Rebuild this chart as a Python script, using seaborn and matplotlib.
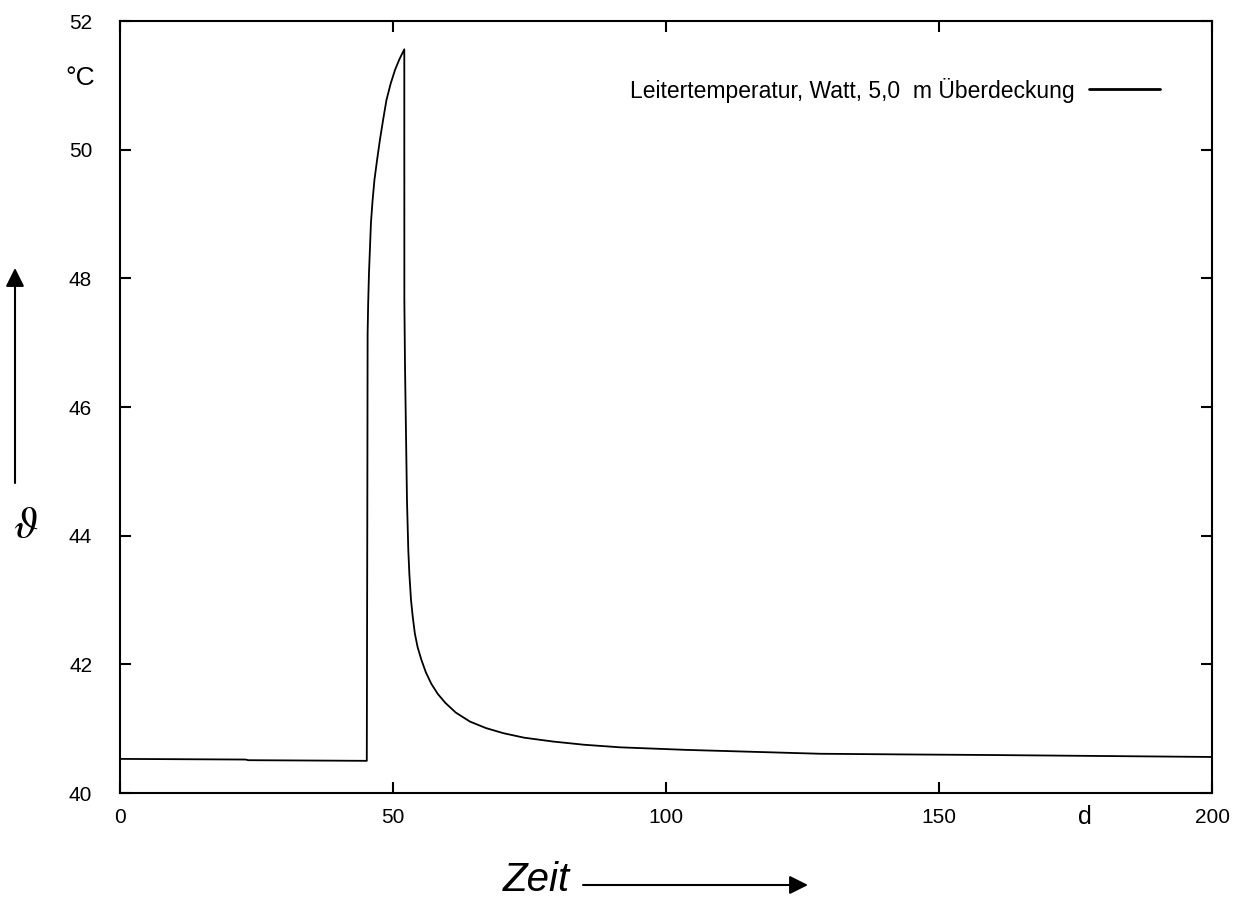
import numpy as np
import pandas as pd
import matplotlib
matplotlib.use("Agg")
import matplotlib.pyplot as plt
import seaborn as sns

# ---- data ----
days = [0, 23, 23.5, 45.2, 45.3, 45.35, 45.45, 45.6, 45.96, 46.25, 46.6,
        47.1, 47.6, 48.2, 48.8, 49.55, 50.37, 51.2, 52.07,
        52.08, 52.2, 52.38, 52.56, 52.8, 53.0, 53.3, 53.6, 54.0, 54.5, 55.2,
        56.0, 57.0, 58.2, 59.6, 61.5, 64.1, 67.0, 70.2, 74.0, 79.3, 85.0,
        91.6, 103.8, 116.0, 128.2, 143, 160, 180, 200]
temps = [40.53, 40.52, 40.51, 40.50, 44.5, 47.14, 47.6, 48.08, 48.86, 49.2,
         49.53, 49.85, 50.15, 50.47, 50.77, 51.02, 51.24, 51.41, 51.56,
         47.66, 46.63, 45.59, 44.55, 43.78, 43.4, 43.0, 42.75, 42.48, 42.27,
         42.07, 41.88, 41.70, 41.54, 41.40, 41.25, 41.11, 41.01, 40.93, 40.86,
         40.80, 40.75, 40.71, 40.67, 40.64, 40.61, 40.60, 40.59, 40.575, 40.56]
series_label = "Leitertemperatur, Watt, 5,0  m Überdeckung"
x_ticks = [0, 50, 100, 150, 200]
y_ticks = [40, 42, 44, 46, 48, 50, 52]

df = pd.DataFrame({"Zeit": days, "Temp": temps})

sns.set_style("ticks")
plt.rcParams["font.family"] = ["Liberation Sans", "DejaVu Sans"]
plt.rcParams["mathtext.fontset"] = "stix"
plt.rcParams["text.color"] = "black"
plt.rcParams["xtick.color"] = "black"
plt.rcParams["ytick.color"] = "black"

W, H = 1236, 897
fig = plt.figure(figsize=(W / 100, H / 100), dpi=100)
ax = fig.add_axes([120 / W, 1 - 793 / H, (1212 - 120) / W, (793 - 21) / H])

sns.lineplot(data=df, x="Zeit", y="Temp", ax=ax, color="black", lw=1.3,
             estimator=None, sort=False, label=series_label)

ax.set_xlim(0, 200)
ax.set_ylim(40, 52)
ax.set_xticks(x_ticks)
ax.set_yticks(y_ticks)
ax.set_xlabel("")
ax.set_ylabel("")
for s in ax.spines.values():
    s.set_visible(True)
    s.set_linewidth(1.5)
    s.set_color("black")
ax.tick_params(direction="in", length=8, width=1.5, top=True, right=True,
               labelsize=15, colors="black")
ax.tick_params(axis="y", pad=20)
ax.tick_params(axis="x", pad=11)

leg = ax.legend(loc="center right", bbox_to_anchor=(0.952, 0.9106),
                frameon=False, markerfirst=False, handlelength=3.1,
                handletextpad=0.6, borderpad=0, borderaxespad=0,
                fontsize=16.5, labelcolor="black")
for h in leg.get_lines():
    h.set_linewidth(2.0)

def fx(px):
    return px / W

def fy(py):
    return 1 - py / H

fig.text(fx(80), fy(78), "°C", fontsize=19, ha="center", va="center")
fig.text(fx(1085), fy(817), "d", fontsize=18, ha="center", va="center")
fig.text(fx(536), fy(880), "Zeit", fontsize=29, style="italic",
         ha="center", va="center")
fig.text(fx(26), fy(526), r"$\vartheta$", fontsize=32, ha="center", va="center")

arrow = dict(arrowstyle="-|>", lw=1.5, color="black", mutation_scale=28,
             shrinkA=0, shrinkB=0)
fig.add_artist(matplotlib.patches.FancyArrowPatch(
    (fx(583), fy(885)), (fx(808), fy(885)), transform=fig.transFigure, **arrow))
fig.add_artist(matplotlib.patches.FancyArrowPatch(
    (fx(15), fy(483)), (fx(15), fy(268)), transform=fig.transFigure, **arrow))

fig.savefig("out.png", dpi=100, facecolor="white")
